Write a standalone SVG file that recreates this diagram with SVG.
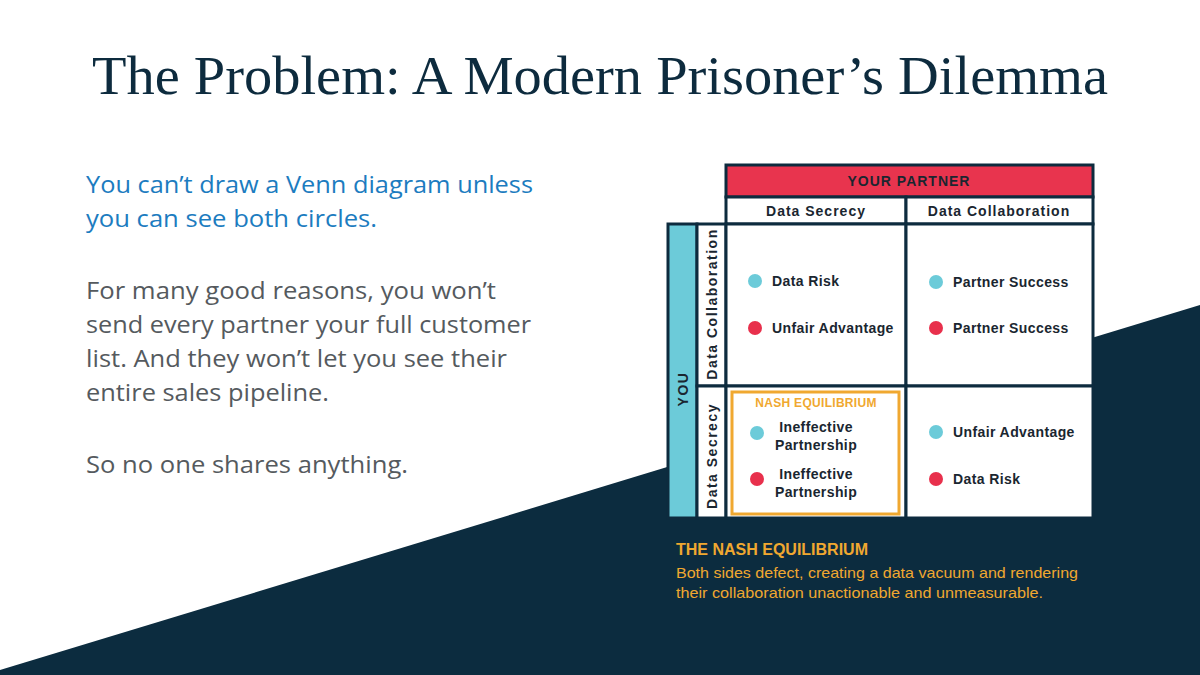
<svg xmlns="http://www.w3.org/2000/svg" width="1200" height="675" viewBox="0 0 1200 675">
<style>
.title{font-family:"Liberation Serif",serif;font-size:54px;fill:#0d2b3e}
.lead{font-family:"Open Sans","Liberation Sans",sans-serif;font-size:23px;fill:#1c7cc0}
.body{font-family:"Open Sans","Liberation Sans",sans-serif;font-size:23px;fill:#555a5e}
.hd{font-family:"Liberation Sans",sans-serif;font-weight:bold;font-size:14px;letter-spacing:1px;fill:#1a2630}
.side{font-family:"Liberation Sans",sans-serif;font-weight:bold;font-size:14px;letter-spacing:1.5px;fill:#1a2630}
.cell{font-family:"Liberation Sans",sans-serif;font-weight:bold;font-size:14px;letter-spacing:0.4px;fill:#1a2630}
.frame{fill:#ffffff;stroke:#0d2b3e;stroke-width:3}
.cy{fill:#6ccbd9}
.rd{fill:#e8304c}
.orange{font-family:"Liberation Sans",sans-serif;font-weight:bold;fill:#f0a830}
.note{font-family:"Liberation Sans",sans-serif;font-size:15px;fill:#f0a830}
</style>
<rect width="1200" height="675" fill="#ffffff"/>
<polygon points="0,670 1200,305 1200,675 0,675" fill="#0c2c3f"/>
<text class="title" x="92" y="94" textLength="1016" lengthAdjust="spacingAndGlyphs">The Problem: A Modern Prisoner’s Dilemma</text>
<g id="lead">
<text class="lead" x="86" y="193" textLength="447" lengthAdjust="spacingAndGlyphs">You can’t draw a Venn diagram unless</text>
<text class="lead" x="86" y="227" textLength="291" lengthAdjust="spacingAndGlyphs">you can see both circles.</text>
</g>
<g id="body">
<text class="body" x="86" y="299" textLength="410" lengthAdjust="spacingAndGlyphs">For many good reasons, you won’t</text>
<text class="body" x="86" y="333" textLength="445" lengthAdjust="spacingAndGlyphs">send every partner your full customer</text>
<text class="body" x="86" y="367" textLength="421" lengthAdjust="spacingAndGlyphs">list. And they won’t let you see their</text>
<text class="body" x="86" y="401" textLength="243" lengthAdjust="spacingAndGlyphs">entire sales pipeline.</text>
<text class="body" x="86" y="473" textLength="322" lengthAdjust="spacingAndGlyphs">So no one shares anything.</text>
</g>
<g id="partner-header">
<rect x="726" y="165" width="367" height="32" fill="#e8344e" stroke="#0d2b3e" stroke-width="3"/>
<text class="hd" x="909" y="186" text-anchor="middle">YOUR PARTNER</text>
</g>
<g id="col-secrecy">
<rect class="frame" x="726" y="197" width="180" height="27"/>
<text class="hd" x="816" y="216" text-anchor="middle">Data Secrecy</text>
</g>
<g id="col-collab">
<rect class="frame" x="906" y="197" width="187" height="27"/>
<text class="hd" x="999" y="216" text-anchor="middle">Data Collaboration</text>
</g>
<g id="you">
<rect x="668" y="224" width="29" height="294" fill="#6ccbd9" stroke="#0d2b3e" stroke-width="3"/>
<text class="side" transform="translate(688,389) rotate(-90)" text-anchor="middle">YOU</text>
</g>
<g id="row-collab">
<rect class="frame" x="697" y="224" width="29" height="162"/>
<text class="side" transform="translate(717,304) rotate(-90)" text-anchor="middle">Data Collaboration</text>
</g>
<g id="row-secrecy">
<rect class="frame" x="697" y="386" width="29" height="132"/>
<text class="side" transform="translate(717,456) rotate(-90)" text-anchor="middle">Data Secrecy</text>
</g>
<g id="cell-tl">
<rect class="frame" x="726" y="224" width="180" height="162"/>
<circle class="cy" cx="755" cy="281" r="7"/>
<text class="cell" x="772" y="286">Data Risk</text>
<circle class="rd" cx="755" cy="328" r="7"/>
<text class="cell" x="772" y="333">Unfair Advantage</text>
</g>
<g id="cell-tr">
<rect class="frame" x="906" y="224" width="187" height="162"/>
<circle class="cy" cx="936" cy="282" r="7"/>
<text class="cell" x="953" y="287">Partner Success</text>
<circle class="rd" cx="936" cy="328" r="7"/>
<text class="cell" x="953" y="333">Partner Success</text>
</g>
<g id="cell-bl">
<rect class="frame" x="726" y="386" width="180" height="132"/>
<rect x="732" y="392" width="167" height="122" fill="none" stroke="#f0a830" stroke-width="3"/>
<text class="orange" x="816" y="407" font-size="12" letter-spacing="0.3" text-anchor="middle">NASH EQUILIBRIUM</text>
<circle class="cy" cx="757" cy="433" r="7"/>
<text class="cell" x="816" y="432" text-anchor="middle">Ineffective</text>
<text class="cell" x="816" y="450" text-anchor="middle">Partnership</text>
<circle class="rd" cx="757" cy="479" r="7"/>
<text class="cell" x="816" y="479" text-anchor="middle">Ineffective</text>
<text class="cell" x="816" y="497" text-anchor="middle">Partnership</text>
</g>
<g id="cell-br">
<rect class="frame" x="906" y="386" width="187" height="132"/>
<circle class="cy" cx="936" cy="432" r="7"/>
<text class="cell" x="953" y="437">Unfair Advantage</text>
<circle class="rd" cx="936" cy="479" r="7"/>
<text class="cell" x="953" y="484">Data Risk</text>
</g>
<g id="nash-note">
<text class="orange" x="676" y="555" font-size="16">THE NASH EQUILIBRIUM</text>
<text class="note" x="676" y="578" textLength="402" lengthAdjust="spacingAndGlyphs">Both sides defect, creating a data vacuum and rendering</text>
<text class="note" x="676" y="598" textLength="367" lengthAdjust="spacingAndGlyphs">their collaboration unactionable and unmeasurable.</text>
</g>
</svg>
